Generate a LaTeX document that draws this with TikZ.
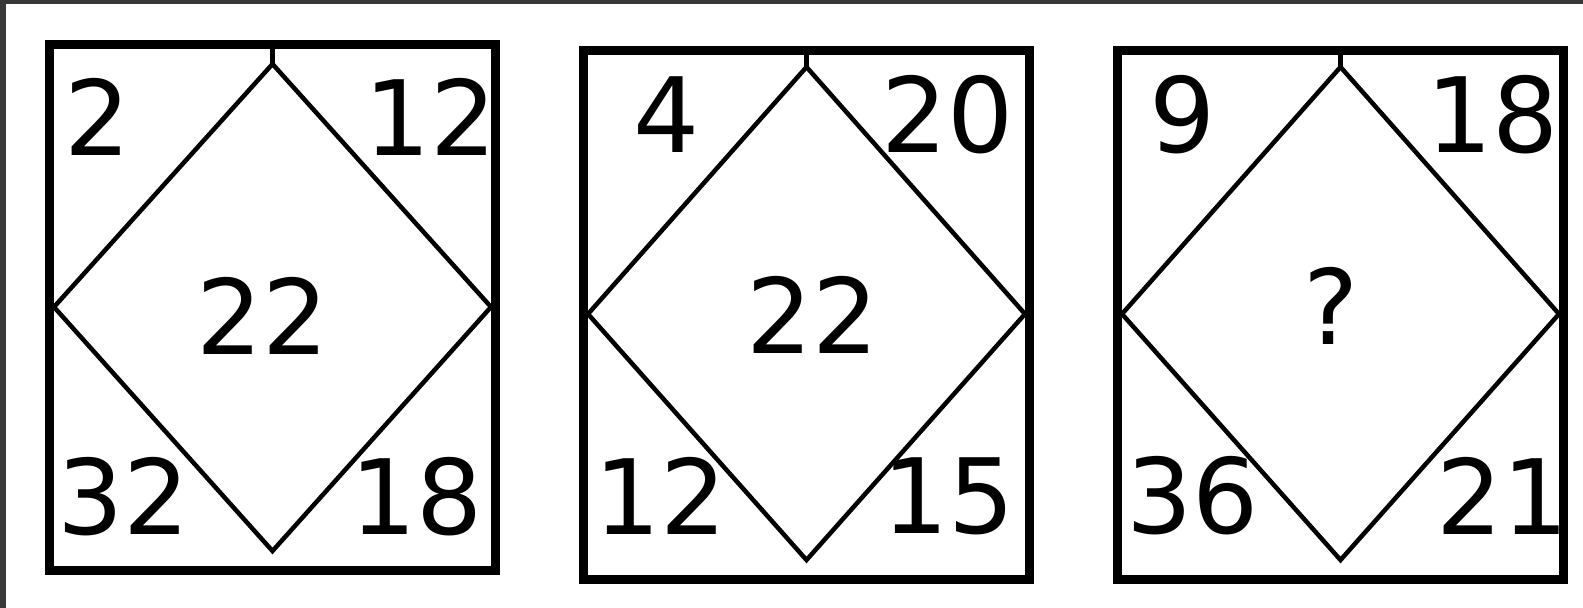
\documentclass[tikz,border=0pt]{standalone}
\usepackage{fontspec}
\setmainfont{DejaVu Sans}
\begin{document}
\begin{tikzpicture}[x=1pt,y=-1pt,
  frame/.style={draw=black,line width=9pt},
  rhomb/.style={draw=black,line width=4.5pt,line join=miter},
  tickline/.style={draw=black,line width=4.5pt},
  num/.style={inner sep=0pt,outer sep=0pt,font=\fontsize{104}{104}\selectfont,text=black}]
\useasboundingbox (0,0) rectangle (1583,608);
\fill[white] (0,0) rectangle (1583,608);
\fill[black!78] (0,0) rectangle (1583,4);
\fill[black!78] (0,0) rectangle (6,608);

% ---------- panel 1 ----------
\draw[frame] (49.5,44.5) rectangle (495.5,570.5);
\coordinate (t1) at (272.5,64);
\coordinate (l1) at (54,307);
\coordinate (r1) at (491,307);
\coordinate (b1) at (272.5,551);
\coordinate (e1) at (272.5,44);
\draw[rhomb] (t1) -- (r1) -- (b1) -- (l1) -- cycle;
\draw[tickline] (e1) -- (t1);
\node[num] (a1) at (98,117) {2};
\node[num] (b1n) at (431,117) {12};
\node[num] (c1) at (263,316) {22};
\node[num] (d1) at (124,497) {32};
\node[num] (f1) at (417,497) {18};

% ---------- panel 2 ----------
\draw[frame] (583.5,50.5) rectangle (1029.5,579.5);
\coordinate (t2) at (806.5,67);
\coordinate (l2) at (588,314);
\coordinate (r2) at (1025,314);
\coordinate (b2) at (806.5,560);
\coordinate (e2) at (806.5,50);
\draw[rhomb] (t2) -- (r2) -- (b2) -- (l2) -- cycle;
\draw[tickline] (e2) -- (t2);
\node[num] (a2) at (667,115) {4};
\node[num] (b2n) at (948,115) {20};
\node[num] (c2) at (813,315) {22};
\node[num] (d2) at (661,496) {12};
\node[num] (f2) at (949,496) {15};

% ---------- panel 3 ----------
\draw[frame] (1117.5,50.5) rectangle (1563.5,579.5);
\coordinate (t3) at (1340.5,67);
\coordinate (l3) at (1122,314);
\coordinate (r3) at (1559,314);
\coordinate (b3) at (1340.5,560);
\coordinate (e3) at (1340.5,50);
\draw[rhomb] (t3) -- (r3) -- (b3) -- (l3) -- cycle;
\draw[tickline] (e3) -- (t3);
\node[num] (a3) at (1183,115) {9};
\node[num] (b3n) at (1493,115) {18};
\node[num] (c3) at (1331,306) {?};
\node[num] (d3) at (1193,496) {36};
\node[num] (f3) at (1503,496) {21};
\end{tikzpicture}
\end{document}
